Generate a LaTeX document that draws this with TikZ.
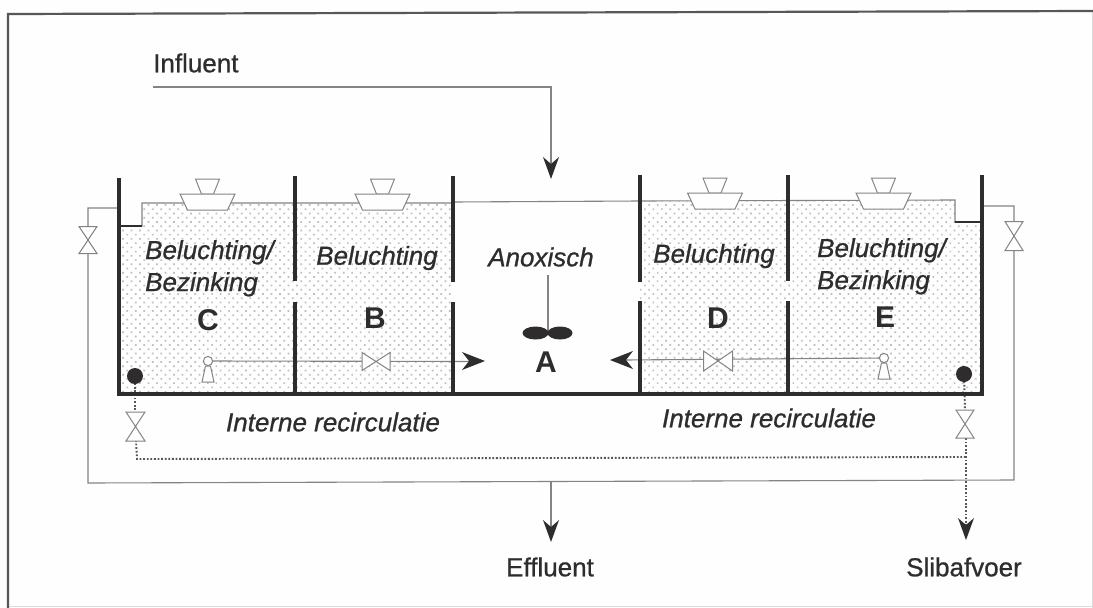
\documentclass[tikz,border=0pt]{standalone}
\usepackage{fontspec}
\setmainfont{Liberation Sans}
\newfontfamily\labfont{Liberation Sans}[FakeBold=0.8]
\newfontfamily\zonefont{Liberation Sans Italic}[FakeBold=0.8]
\usetikzlibrary{patterns.meta,arrows.meta}
\definecolor{ink}{HTML}{2E2C2C}
\definecolor{thin}{HTML}{858383}
\definecolor{paper}{HTML}{FEFEFE}
\tikzset{
  wall/.style={draw=ink,line width=3.6pt},
  pipe/.style={draw=thin,line width=1.1pt},
  frameline/.style={draw=ink!80,line width=2.2pt},
  faintline/.style={draw=black!14,line width=1pt},
  outline/.style={draw=thin,line width=1pt,fill=paper},
  dotted pipe/.style={draw=ink!80,line width=1.9pt,dash pattern=on 1.8pt off 1.8pt},
  stipple/.style={pattern={Dots[radius=1.2pt,distance=6pt,angle=45]},pattern color=black!25},
  label/.style={text=ink,font=\labfont\fontsize{26}{30}\selectfont,inner sep=0pt},
  zone/.style={text=ink,font=\zonefont\fontsize{26}{32}\selectfont,inner sep=0pt,align=left},
  letter/.style={text=ink,font=\fontsize{30}{32}\selectfont\bfseries,inner sep=0pt},
  head/.style={fill=ink,draw=none},
}
\newcommand{\headdown}[2]{\fill[head] (#1-8,#2-22) -- (#1,#2-15) -- (#1+8,#2-22) -- (#1,#2) -- cycle;}
\newcommand{\vvalve}[4]{\draw[outline] (#1-#3,#2-#4) -- (#1+#3,#2-#4) -- (#1-#3,#2+#4) -- (#1+#3,#2+#4) -- cycle;}
\newcommand{\hvalve}[4]{\draw[outline] (#1-#3,#2-#4) -- (#1-#3,#2+#4) -- (#1+#3,#2-#4) -- (#1+#3,#2+#4) -- cycle;}
\newcommand{\aerator}[2]{%
  \draw[outline] (#1-12,#2-15) -- (#1-6,#2) -- (#1+6,#2) -- (#1+12,#2-15) -- cycle;
  \draw[outline] (#1-27.5,#2) -- (#1+27.5,#2) -- (#1+20,#2+16) -- (#1-20,#2+16) -- cycle;}
\newcommand{\keyhole}[2]{%
  \draw[outline] (#1-2.5,#2+5) -- (#1+2.5,#2+5) -- (#1+6,#2+21) -- (#1-6,#2+21) -- cycle;
  \draw[outline] (#1,#2) circle (4.6);}
\begin{document}
\begin{tikzpicture}[x=1pt,y=-1pt]
\useasboundingbox (0,0) rectangle (1093,608);
\fill[paper] (0,0) rectangle (1093,608);
% frame
\draw[faintline] (1092,11) -- (1092,608);
\draw[faintline] (8,606) -- (1093,606);
\draw[frameline] (1093,11) -- (8,14) -- (8,608);
% stippled water
\fill[stipple] (121,226) -- (142,226) -- (142,203) -- (453,203) -- (453,393) -- (121,393) -- cycle;
\fill[stipple] (640,201) -- (955,200) -- (955,222) -- (980,222) -- (980,393) -- (640,393) -- cycle;
% water lines
\draw[pipe] (120,226) -- (142,226) -- (142,203) -- (453,203) -- (453,202) -- (640,201) -- (955,200) -- (955,222) -- (982,222);
\draw[draw=ink,line width=1.4pt] (120,226) -- (142,226);
\draw[draw=ink,line width=1.4pt] (955,222) -- (982,222);
% overflow pipes
\coordinate (ovl) at (119,208);
\coordinate (ovr) at (982,206);
\coordinate (blb) at (88,483);
\coordinate (brb) at (1014,480);
\coordinate (effl) at (551,482);
\coordinate (efft) at (551,530);
\draw[pipe] (ovl) -- (88,208) -- (blb) -- (brb) -- (1014,206) -- (ovr);
\draw[pipe] (effl) -- (efft);
\headdown{551}{542}
\vvalve{88}{240}{9}{13.5}
\vvalve{1014}{236}{9}{14.5}
% influent
\coordinate (infa) at (153,87);
\coordinate (infb) at (551,87);
\coordinate (infc) at (551,170);
\draw[pipe] (infa) -- (infb) -- (infc);
\headdown{551}{179}
% recirculation
\coordinate (kl) at (208,361);
\coordinate (kr) at (884,358);
\coordinate (al) at (470,361.5);
\coordinate (ar) at (625,360);
\draw[pipe] (kl) -- (al);
\draw[pipe] (kr) -- (ar);
\fill[head] (462,352) -- (485,361) -- (462,370) -- (469,361) -- cycle;
\fill[head] (633,351) -- (610,360) -- (633,369) -- (626,360) -- cycle;
\hvalve{376}{361.5}{14}{9}
\hvalve{718}{361}{14.5}{10}
\keyhole{208}{361}
\keyhole{884}{358}
% sludge
\coordinate (dl) at (135,376);
\coordinate (dr) at (964,374);
\coordinate (dlb) at (137,459);
\coordinate (drb) at (966,457);
\coordinate (sl) at (966,525);
\draw[dotted pipe] (dl) -- (135,412);
\draw[dotted pipe] (136,440) -- (dlb) -- (drb);
\draw[dotted pipe] (dr) -- (965,410);
\draw[dotted pipe] (966,438) -- (sl);
\headdown{966}{540}
\vvalve{135.5}{426.5}{9.5}{14.5}
\vvalve{965}{424}{9}{14}
\fill[ink] (dl) circle (8);
\fill[ink] (dr) circle (8);
% walls
\draw[wall] (119,178) -- (119,395);
\draw[wall] (295,176) -- (295,281);
\draw[wall] (295,302) -- (295,395);
\draw[wall] (453,176) -- (453,282);
\draw[wall] (453,302) -- (453,395);
\draw[wall] (640,175) -- (640,282);
\draw[wall] (640,301) -- (640,395);
\draw[wall] (788,175) -- (788,281);
\draw[wall] (788,301) -- (788,395);
\draw[wall] (982,175) -- (982,395);
\draw[wall] (117.2,394) -- (983.8,394);
% aerators
\aerator{207.5}{194}
\aerator{382.5}{194}
\aerator{715}{193}
\aerator{883.5}{193}
% stirrer
\coordinate (sta) at (548,275);
\coordinate (stb) at (548,333);
\draw[pipe] (sta) -- (stb);
\fill[ink] (535.5,333) ellipse (13 and 6.5);
\fill[ink] (560,333) ellipse (12.5 and 6.5);
% labels
\node[label,anchor=west] (influent) at (153,63) {Influent};
\node[label] (effluent) at (550,567) {Effluent};
\node[label] (slib) at (964,567) {Slibafvoer};
\node[zone,anchor=north west] (zc) at (145,240) {Beluchting/\\Bezinking};
\node[zone] (zb) at (377,258) {Beluchting};
\node[zone] (za) at (541,257) {Anoxisch};
\node[zone] (zd) at (714,256) {Beluchting};
\node[zone,anchor=north west] (ze) at (817,238) {Beluchting/\\Bezinking};
\node[letter] (lc) at (208,320) {C};
\node[letter] (lb) at (375,318) {B};
\node[letter] (la) at (546,362) {A};
\node[letter] (ld) at (718,318) {D};
\node[letter] (le) at (885,317) {E};
\node[zone] (irl) at (333,422) {Interne recirculatie};
\node[zone] (irr) at (769,418) {Interne recirculatie};
\end{tikzpicture}
\end{document}
